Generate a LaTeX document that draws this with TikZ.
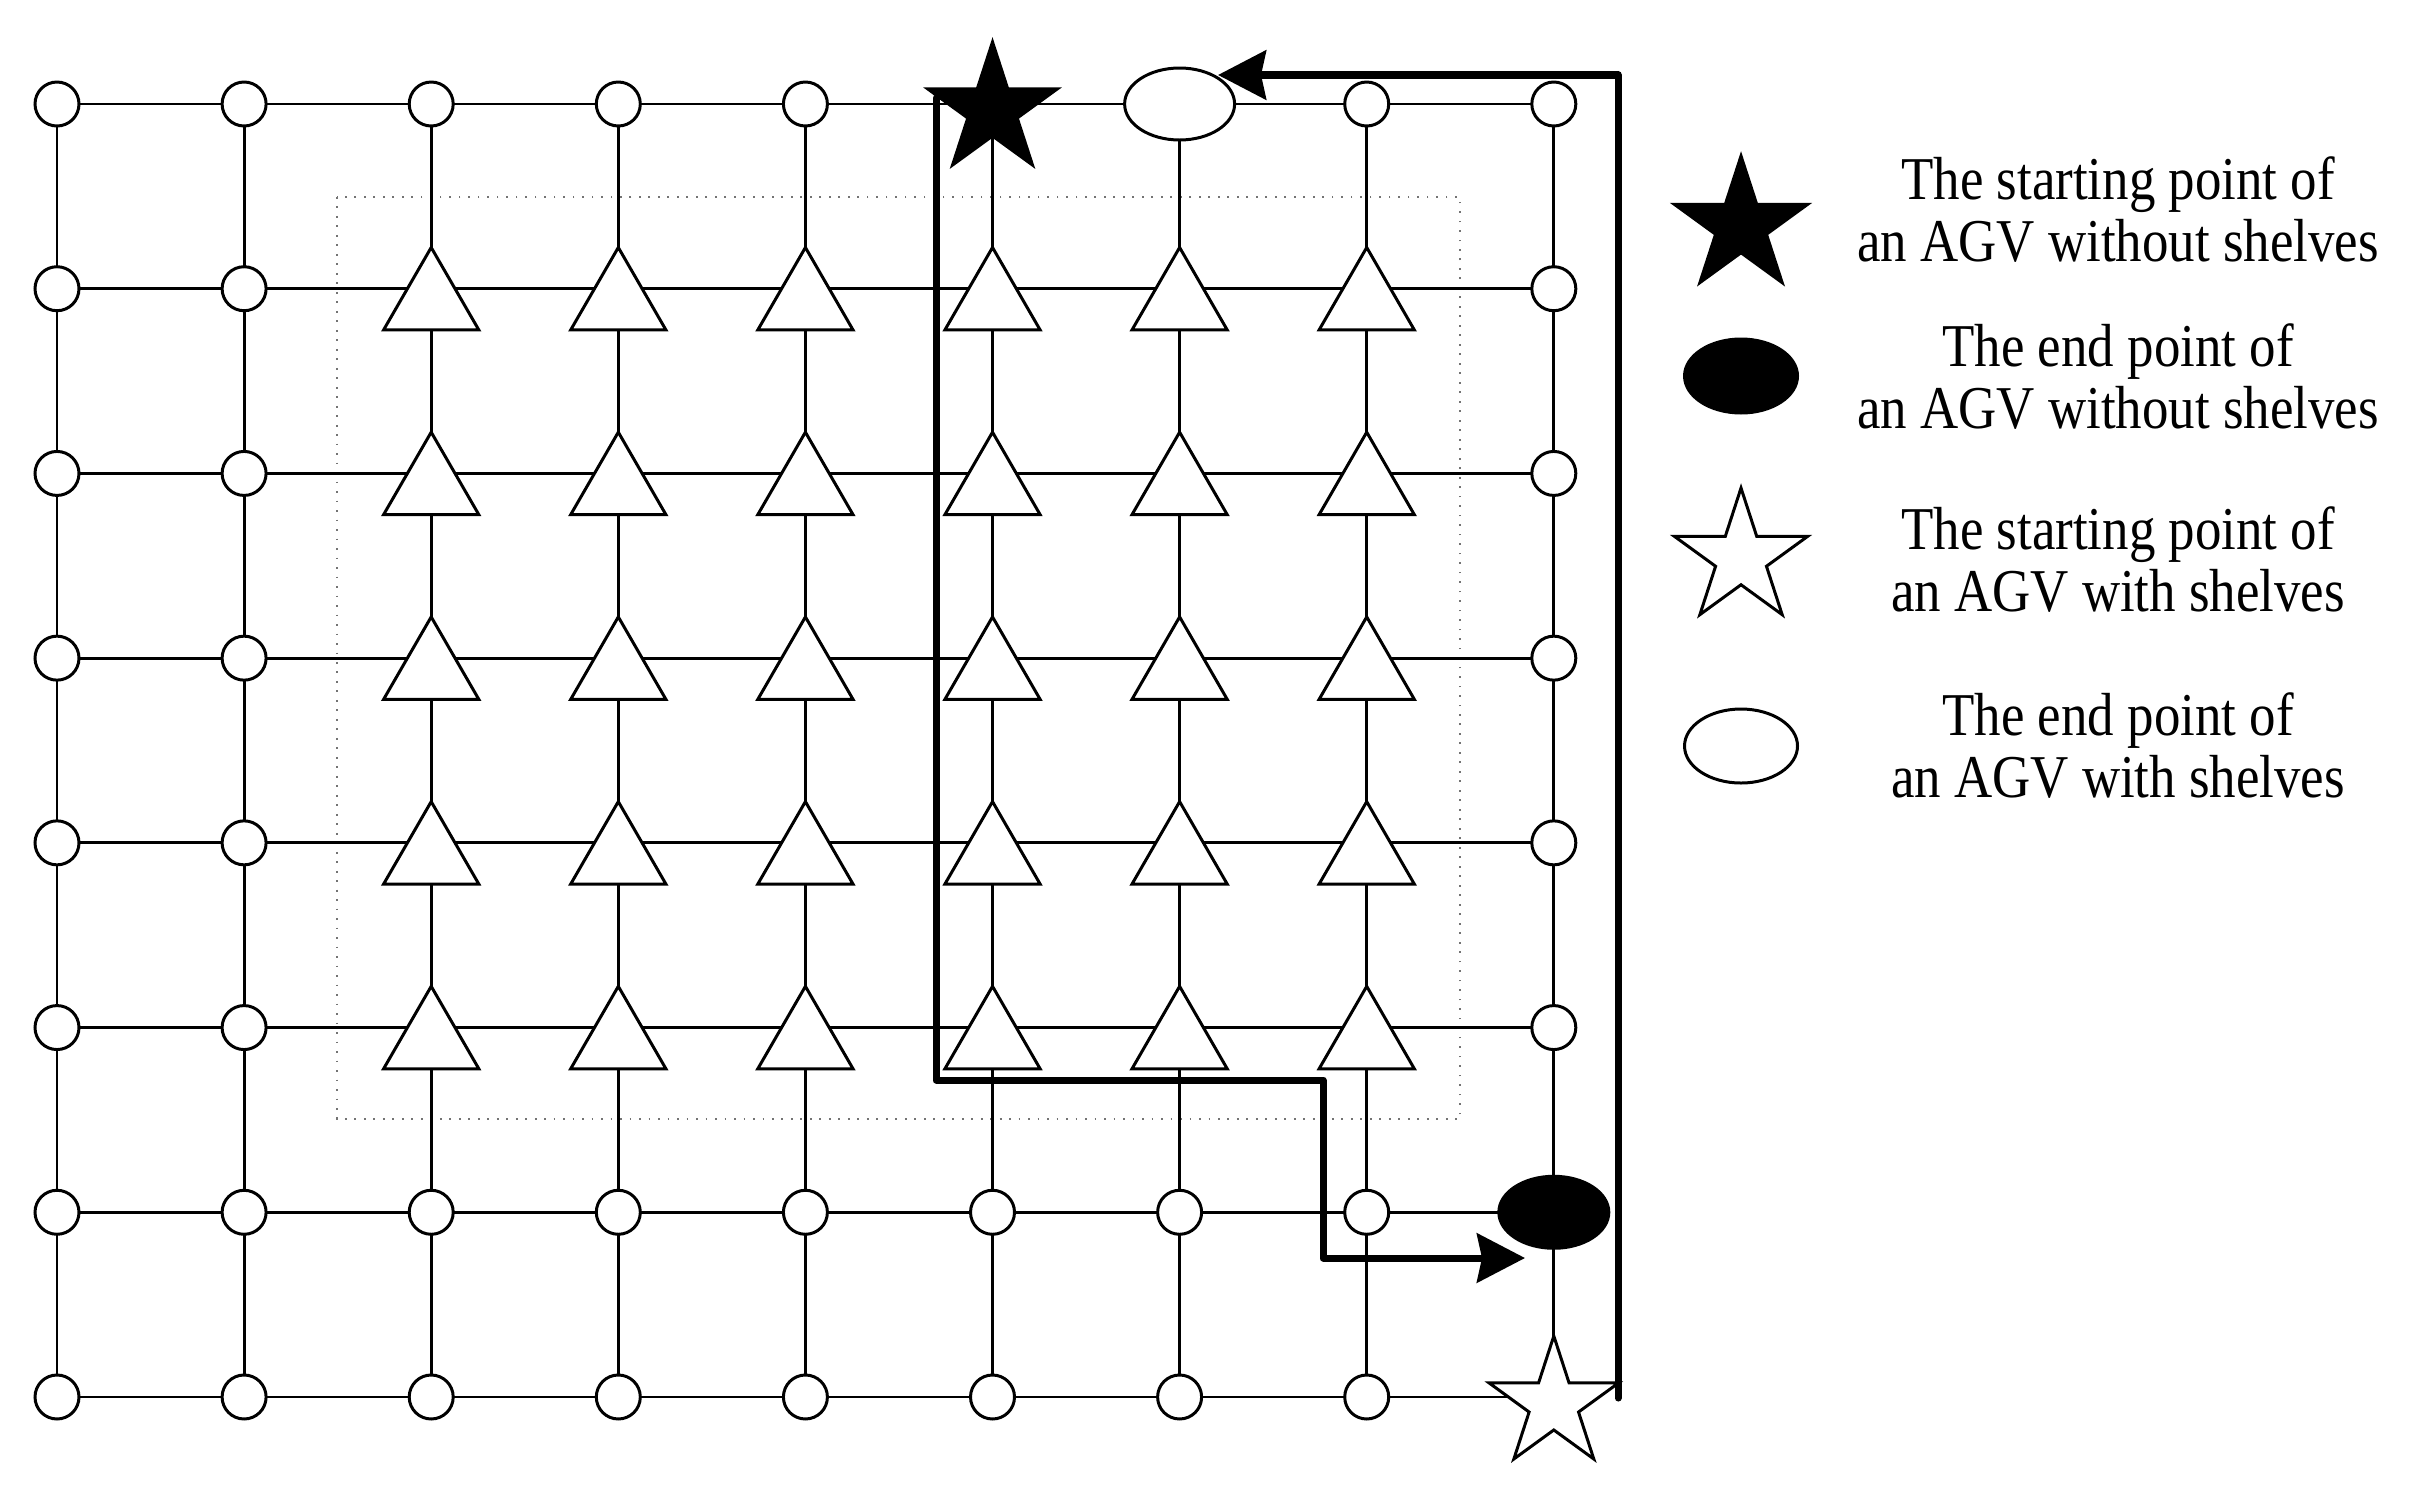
\documentclass[tikz,border=0pt]{standalone}
\usepackage{fontspec}
\newfontfamily\legfont{Liberation Serif}[FakeStretch=0.87]
\usetikzlibrary{shapes.geometric,arrows.meta}
\tikzset{
  gridline/.style={line width=0.8pt},
  cnode/.style={circle,draw,line width=0.85pt,fill=white,minimum size=0.44cm,inner sep=0pt,outer sep=0pt},
  tnode/.style={regular polygon,regular polygon sides=3,draw,line width=0.85pt,fill=white,minimum size=1.10cm,inner sep=0pt,outer sep=0pt},
  enode/.style={ellipse,draw,line width=0.85pt,minimum width=1.10cm,minimum height=0.72cm,inner sep=0pt,outer sep=0pt},
  snode/.style={star,star points=5,star point ratio=2.618,draw,line width=0.85pt,minimum size=1.36cm,inner sep=0pt,outer sep=0pt},
  route/.style={line width=2pt,line join=round,line cap=round,-{Stealth[length=0.48cm,width=0.49cm,inset=0.05cm]}},
  legtext/.style={font=\legfont\fontsize{17.3}{20}\selectfont,anchor=base,inner sep=0pt},
  zone/.style={draw=black!55,line width=0.5pt,dash pattern=on 0.5pt off 2.2pt}
}
\begin{document}
\begin{tikzpicture}
\useasboundingbox (0,0) rectangle (24.17,-14.95);
% grid coordinates
\foreach \c in {0,...,8}{
  \foreach \r in {0,...,7}{
    \coordinate (g-\c-\r) at ({0.57+1.871*\c},{-1.04-1.8471*\r});
  }
}
% dotted zone
\coordinate (zoneA) at (3.37,-1.97);
\coordinate (zoneB) at (14.60,-11.19);
\draw[zone] (zoneA) rectangle (zoneB);
% grid lines
\foreach \r in {0,...,7}{ \draw[gridline] (g-0-\r) -- (g-8-\r); }
\foreach \c in {0,...,8}{ \draw[gridline] (g-\c-0) -- (g-\c-7); }
% row 0
\foreach \c in {0,...,4}{ \node[cnode] (n-\c-0) at (g-\c-0) {}; }
\node[snode,fill=black] (n-5-0) at ([yshift=-0.06cm]g-5-0) {};
\node[enode,fill=white] (n-6-0) at (g-6-0) {};
\foreach \c in {7,8}{ \node[cnode] (n-\c-0) at (g-\c-0) {}; }
% rows 1-5
\foreach \r in {1,...,5}{
  \foreach \c in {0,1,8}{ \node[cnode] (n-\c-\r) at (g-\c-\r) {}; }
  \foreach \c in {2,...,7}{ \node[tnode] (n-\c-\r) at ([yshift=-0.1375cm]g-\c-\r) {}; }
}
% rows 6-7
\foreach \r in {6,7}{
  \foreach \c in {0,...,7}{ \node[cnode] (n-\c-\r) at (g-\c-\r) {}; }
}
\node[enode,fill=black] (n-8-6) at (g-8-6) {};
\node[snode,fill=white] (n-8-7) at ([yshift=-0.07cm]g-8-7) {};
% routes
\coordinate (r1s) at (9.36,-0.98);
\coordinate (r1b) at (13.23,-10.80);
\coordinate (r1e) at (15.25,-12.58);
\draw[route] (r1s) |- (r1b) |- (r1e);
\coordinate (r2s) at (16.18,-13.98);
\coordinate (r2e) at (12.18,-0.75);
\draw[route] (r2s) |- (r2e);
% legend
\node[snode,fill=black,minimum size=1.40cm] (l1) at (17.41,-2.26) {};
\node[enode,fill=black,minimum width=1.13cm,minimum height=0.74cm] (l2) at (17.41,-3.76) {};
\node[snode,fill=white,minimum size=1.40cm] (l3) at (17.41,-5.58) {};
\node[enode,fill=white,minimum width=1.13cm,minimum height=0.74cm] (l4) at (17.41,-7.46) {};
\node[legtext] (t1a) at (21.18,-1.99) {The starting point of};
\node[legtext] (t1b) at (21.18,-2.61) {an AGV without shelves};
\node[legtext] (t2a) at (21.18,-3.66) {The end point of};
\node[legtext] (t2b) at (21.18,-4.28) {an AGV without shelves};
\node[legtext] (t3a) at (21.18,-5.49) {The starting point of};
\node[legtext] (t3b) at (21.18,-6.11) {an AGV with shelves};
\node[legtext] (t4a) at (21.18,-7.35) {The end point of};
\node[legtext] (t4b) at (21.18,-7.97) {an AGV with shelves};
\end{tikzpicture}
\end{document}
